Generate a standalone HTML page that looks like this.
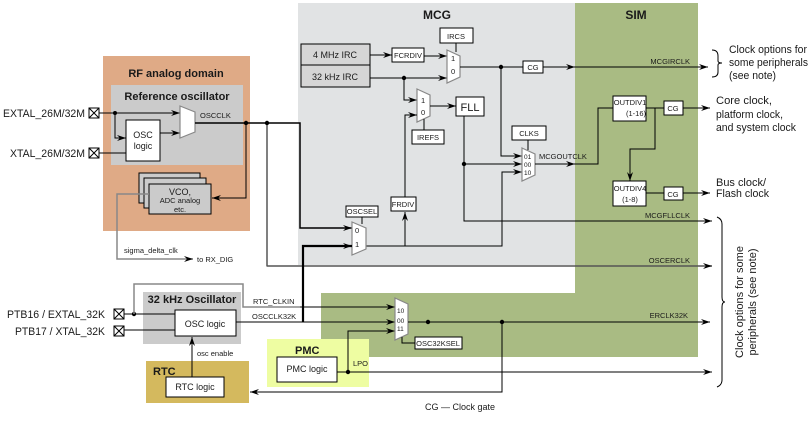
<!DOCTYPE html>
<html><head><meta charset="utf-8"><style>
html,body{margin:0;padding:0;background:#fff}
svg{display:block}
text{font-family:"Liberation Sans",Arial,sans-serif;fill:#1a1a1a}
.s{font-size:7.5px}
.m{font-size:9px}
.l{font-size:11px}
.h{font-size:11px;font-weight:bold}
.b{fill:#fff;stroke:#000;stroke-width:1}
.w{fill:none;stroke:#000;stroke-width:1}
.g{fill:none;stroke:#888;stroke-width:1.5}
.mux{fill:#fff;stroke:#888;stroke-width:1.2}
</style></head><body>
<svg width="812" height="424" viewBox="0 0 812 424" xmlns="http://www.w3.org/2000/svg">
<defs>
<marker id="a" markerWidth="10" markerHeight="8" refX="9" refY="4" orient="auto" markerUnits="userSpaceOnUse"><path d="M0,1 L9,4 L0,7 L3,4z" fill="#000"/></marker>
</defs>
<rect x="298" y="3" width="277" height="262" fill="#e1e3e4"/>
<rect x="575" y="3" width="123" height="353" fill="#a9bb83"/>
<rect x="321" y="293" width="377" height="64" fill="#a9bb83"/>
<rect x="103" y="56" width="147" height="175" fill="#dfaa86"/>
<rect x="111" y="85" width="132" height="80" fill="#cbcbcb"/>
<rect x="143" y="292" width="98" height="52" fill="#cbcbcb"/>
<rect x="146" y="361" width="103" height="42" fill="#d4b95e"/>
<rect x="267" y="339" width="102" height="48" fill="#eefda2"/>
<text x="437" y="19" class="h" text-anchor="middle" style="font-size:12px">MCG</text>
<text x="636" y="19" class="h" text-anchor="middle" style="font-size:12px">SIM</text>
<text x="176" y="77" class="h" text-anchor="middle">RF analog domain</text>
<text x="177" y="100" class="h" text-anchor="middle">Reference oscillator</text>
<text x="192" y="303" class="h" text-anchor="middle">32 kHz Oscillator</text>
<text x="153" y="375" class="h">RTC</text>
<text x="295" y="354" class="h">PMC</text>

<text x="3" y="117" class="l" textLength="82" lengthAdjust="spacingAndGlyphs">EXTAL_26M/32M</text>
<text x="10" y="157" class="l" textLength="75" lengthAdjust="spacingAndGlyphs">XTAL_26M/32M</text>
<g class="b"><rect x="89" y="108" width="10" height="10"/><rect x="89" y="148" width="10" height="10"/></g>
<path d="M89,108L99,118M99,108L89,118M89,148L99,158M99,148L89,158" class="w"/>
<rect x="126" y="120" width="34" height="41" class="b"/>
<text x="143" y="138" class="m" text-anchor="middle">OSC</text>
<text x="143" y="149" class="m" text-anchor="middle">logic</text>
<path d="M99,153H126" class="w"/>
<path d="M99,113H180" class="w" marker-end="url(#a)"/><path d="M115,113V138H126" class="w" marker-end="url(#a)"/><path d="M160,133H180" class="w" marker-end="url(#a)"/>
<circle cx="115" cy="113" r="2"/>
<polygon points="180,106 195,112 195,132 180,138" class="mux"/>
<text x="200" y="118" class="s">OSCCLK</text>
<rect x="139" y="173" width="61" height="30" fill="#cbcbcb" stroke="#000"/>
<rect x="144" y="178" width="62" height="30" fill="#cbcbcb" stroke="#000"/>
<rect x="149" y="184" width="62" height="30" fill="#cbcbcb" stroke="#000"/>
<text x="180" y="195" class="m" text-anchor="middle">VCO,</text>
<text x="180" y="203" class="s" text-anchor="middle">ADC analog</text>
<text x="180" y="212" class="s" text-anchor="middle">etc.</text>
<path d="M195,123H300V228H352" class="w" style="stroke-width:1.5" marker-end="url(#a)"/>
<path d="M246,123V198H212" class="w" marker-end="url(#a)"/>
<circle cx="246" cy="123" r="2.2"/><circle cx="267" cy="123" r="2.2"/>
<path d="M267,123V266H300" class="w"/>
<path d="M300,266H712" stroke="#555" stroke-width="1.5" marker-end="url(#a)"/>
<path d="M267,266H300" stroke="#555" stroke-width="1.5"/>
<path d="M149,194H117V259H193" class="g" marker-end="url(#a)"/>
<text x="124" y="253" class="s">sigma_delta_clk</text>
<text x="197" y="262" class="s">to RX_DIG</text>

<rect x="301" y="44" width="69" height="21" fill="#d6d6d6" stroke="#000"/>
<rect x="301" y="65" width="69" height="22" fill="#d6d6d6" stroke="#000"/>
<text x="335" y="58" class="m" text-anchor="middle">4 MHz IRC</text>
<text x="335" y="80" class="m" text-anchor="middle">32 kHz IRC</text>
<rect x="392" y="48" width="32" height="14" class="b"/><text x="408" y="58" class="s" text-anchor="middle">FCRDIV</text>
<rect x="440" y="28" width="33" height="15" class="b"/><text x="456" y="39" class="s" text-anchor="middle">IRCS</text>
<path d="M370,55H392" class="w" marker-end="url(#a)"/>
<path d="M424,56H447" class="w" marker-end="url(#a)"/>
<path d="M370,78H447" class="w" marker-end="url(#a)"/>
<path d="M456,43V52" class="w"/>
<polygon points="447,50 460,56 460,77 447,83" class="mux"/>
<text x="451" y="61" class="s">1</text><text x="451" y="74" class="s">0</text>
<path d="M460,67H523" class="w"/>
<path d="M543,67H575" class="w" marker-end="url(#a)"/>
<circle cx="501" cy="67" r="2.2"/>
<rect x="523" y="61" width="20" height="12" class="b"/><text x="533" y="70" class="s" text-anchor="middle">CG</text>
<path d="M575,67H708" class="w" marker-end="url(#a)"/>
<text x="690" y="64" class="s" text-anchor="end">MCGIRCLK</text>
<circle cx="404" cy="78" r="2.2"/>
<path d="M404,78V100H417" class="w" marker-end="url(#a)"/>
<polygon points="417,89 430,95 430,116 417,122" class="mux"/>
<text x="421" y="103" class="s">1</text><text x="421" y="115" class="s">0</text>
<rect x="412" y="130" width="32" height="14" class="b"/><text x="428" y="140" class="s" text-anchor="middle">IREFS</text>
<path d="M424,119V130" class="w"/>
<path d="M430,106H456" class="w" marker-end="url(#a)"/>
<rect x="456" y="97" width="28" height="19" class="b"/><text x="470" y="111" class="l" text-anchor="middle">FLL</text>
<rect x="391" y="197" width="25" height="14" class="b"/><text x="403" y="207" class="s" text-anchor="middle">FRDIV</text>
<path d="M405,197V115H417" class="w" marker-end="url(#a)"/>
<path d="M405,246V212" class="w" marker-end="url(#a)"/>
<path d="M464,116V221H712" class="w" marker-end="url(#a)"/>
<text x="690" y="218" class="s" text-anchor="end">MCGFLLCLK</text>
<circle cx="464" cy="164" r="2.2"/>
<path d="M464,164H522" class="w" marker-end="url(#a)"/>
<path d="M501,67V156H522" class="w" marker-end="url(#a)"/>
<path d="M366,246H502V172H522" class="w" marker-end="url(#a)"/>
<rect x="512" y="126" width="34" height="14" class="b"/><text x="529" y="136" class="s" text-anchor="middle">CLKS</text>
<path d="M528,140V150" class="w"/>
<polygon points="522,148 535,154 535,175 522,181" class="mux"/>
<text x="524" y="159" class="s" style="font-size:6.5px">01</text><text x="524" y="167" class="s" style="font-size:6.5px">00</text><text x="524" y="175" class="s" style="font-size:6.5px">10</text>
<text x="539" y="159" class="s">MCGOUTCLK</text>
<path d="M535,164H575" class="w" marker-end="url(#a)"/>
<rect x="346" y="206" width="32" height="11" class="b"/><text x="362" y="214" class="s" text-anchor="middle">OSCSEL</text>
<polygon points="352,222 366,228 366,249 352,255" class="mux"/>
<text x="355" y="233" class="s">0</text><text x="355" y="247" class="s">1</text>
<path d="M303,322V246H352" class="w" style="stroke-width:2.2" marker-end="url(#a)"/>
<path d="M362,217V224" class="w"/>

<path d="M575,164H598V108H613" class="w"/>
<rect x="613" y="96" width="33" height="25" class="b"/>
<text x="630" y="105" class="s" text-anchor="middle">OUTDIV1</text><text x="636" y="116" class="s" text-anchor="middle">(1-16)</text>
<path d="M646,108H664" class="w"/><path d="M683,108H710" class="w" marker-end="url(#a)"/>
<rect x="664" y="101" width="19" height="14" class="b"/><text x="673" y="111" class="s" text-anchor="middle">CG</text>
<path d="M655,108V149H630V181" class="w" marker-end="url(#a)"/>
<rect x="613" y="181" width="33" height="25" class="b"/>
<text x="630" y="191" class="s" text-anchor="middle">OUTDIV4</text><text x="630" y="202" class="s" text-anchor="middle">(1-8)</text>
<path d="M646,193H664" class="w"/><path d="M683,193H710" class="w" marker-end="url(#a)"/>
<rect x="664" y="187" width="19" height="13" class="b"/><text x="673" y="197" class="s" text-anchor="middle">CG</text>
<text x="690" y="263" class="s" text-anchor="end">OSCERCLK</text>
<text x="688" y="318" class="s" text-anchor="end">ERCLK32K</text>

<path d="M712,50Q718,50 718,56V61Q718,63 722,63Q718,63 718,65V72Q718,77 712,77" class="w"/>
<text x="729" y="53" class="l" textLength="78" lengthAdjust="spacingAndGlyphs">Clock options for</text>
<text x="729" y="66" class="l" textLength="79" lengthAdjust="spacingAndGlyphs">some peripherals</text>
<text x="729" y="79" class="l" textLength="47" lengthAdjust="spacingAndGlyphs">(see note)</text>
<text x="716" y="104" class="l" textLength="56" lengthAdjust="spacingAndGlyphs">Core clock,</text>
<text x="716" y="118" class="l" textLength="67" lengthAdjust="spacingAndGlyphs">platform clock,</text>
<text x="716" y="131" class="l" textLength="80" lengthAdjust="spacingAndGlyphs">and system clock</text>
<text x="716" y="186" class="l" textLength="50" lengthAdjust="spacingAndGlyphs">Bus clock/</text>
<text x="716" y="197" class="l" textLength="53" lengthAdjust="spacingAndGlyphs">Flash clock</text>
<path d="M717,217Q722,219 722,224V297Q722,302 725,302Q722,302 722,307V380Q722,385 717,387" class="w"/>
<g transform="translate(743,302) rotate(-90)"><text x="0" y="0" class="l" text-anchor="middle">Clock options for some</text><text x="0" y="13" class="l" text-anchor="middle">peripherals (see note)</text></g>

<text x="7" y="318" class="l" textLength="98" lengthAdjust="spacingAndGlyphs">PTB16 / EXTAL_32K</text>
<text x="15" y="335" class="l" textLength="90" lengthAdjust="spacingAndGlyphs">PTB17 / XTAL_32K</text>
<g class="b"><rect x="114" y="309" width="10" height="10"/><rect x="114" y="326" width="10" height="10"/></g>
<path d="M114,309L124,319M124,309L114,319M114,326L124,336M124,326L114,336" class="w"/>
<rect x="175" y="310" width="61" height="26" class="b"/>
<text x="205" y="327" class="m" text-anchor="middle">OSC logic</text>
<path d="M124,314H175M124,330H175" class="w"/>
<circle cx="134" cy="314" r="2.2"/>
<path d="M134,314V284H243V307H300" class="g"/>
<path d="M300,307H395" class="w" marker-end="url(#a)"/>
<text x="253" y="304" class="s">RTC_CLKIN</text>
<text x="252" y="319" class="s">OSCCLK32K</text>
<path d="M236,322H395" class="w" marker-end="url(#a)"/>
<rect x="166" y="377" width="58" height="20" class="b"/><text x="195" y="390" class="m" text-anchor="middle">RTC logic</text>
<path d="M192,377V337" class="w" marker-end="url(#a)"/>
<text x="197" y="356" class="s">osc enable</text>
<rect x="277" y="357" width="60" height="25" class="b"/><text x="307" y="372" class="m" text-anchor="middle">PMC logic</text>
<path d="M337,372H712" class="w" marker-end="url(#a)"/>
<circle cx="348" cy="372" r="2.2"/>
<path d="M348,372V331H395" class="w" marker-end="url(#a)"/>
<text x="353" y="366" class="s">LPO</text>
<polygon points="395,298 408,304 408,334 395,340" class="mux"/>
<text x="397" y="313" class="s" style="font-size:6.5px">10</text><text x="397" y="323" class="s" style="font-size:6.5px">00</text><text x="397" y="331" class="s" style="font-size:6.5px">11</text>
<rect x="415" y="337" width="47" height="12" class="b"/><text x="438" y="346" class="s" text-anchor="middle">OSC32KSEL</text>
<path d="M402,337V343H415" class="w"/>
<path d="M408,322H710" class="w" marker-end="url(#a)"/>
<circle cx="428" cy="322" r="2.2"/><circle cx="502" cy="322" r="2.2"/>
<path d="M502,322V392H250" class="w" marker-end="url(#a)"/>
<text x="425" y="410" class="m">CG — Clock gate</text>
</svg>
</body></html>
